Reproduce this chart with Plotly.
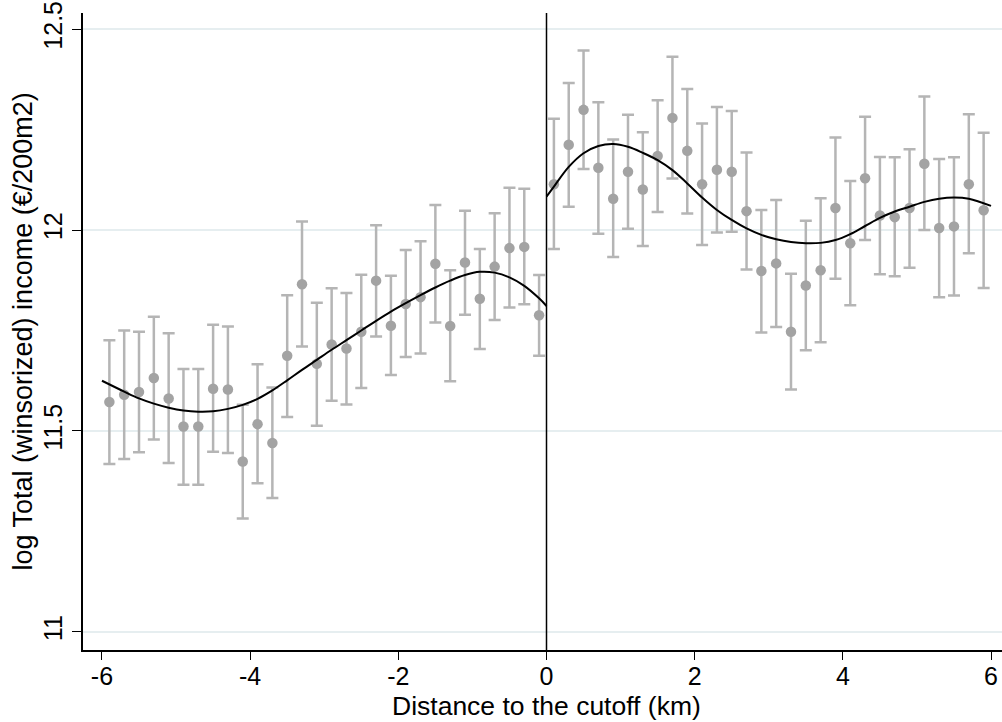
import plotly.graph_objects as go

# ---- data ----
left_x = [-5.9, -5.7, -5.5, -5.3, -5.1, -4.9, -4.7, -4.5, -4.3, -4.1, -3.9, -3.7, -3.5, -3.3, -3.1,
          -2.9, -2.7, -2.5, -2.3, -2.1, -1.9, -1.7, -1.5, -1.3, -1.1, -0.9, -0.7, -0.5, -0.3, -0.1]
left_y = [11.572, 11.590, 11.597, 11.632, 11.581, 11.511, 11.511, 11.605, 11.603, 11.424, 11.517, 11.470,
          11.687, 11.865, 11.667, 11.715, 11.705, 11.747, 11.874, 11.762, 11.816, 11.833, 11.916, 11.761,
          11.919, 11.829, 11.909, 11.955, 11.958, 11.788]
left_hi = [11.726, 11.750, 11.747, 11.784, 11.743, 11.654, 11.654, 11.764, 11.760, 11.565, 11.666, 11.608,
           11.838, 12.021, 11.819, 11.855, 11.843, 11.889, 12.012, 11.886, 11.950, 11.972, 12.062, 11.900,
           12.048, 11.953, 12.042, 12.105, 12.103, 11.888]
left_lo = [11.418, 11.430, 11.447, 11.479, 11.420, 11.366, 11.366, 11.448, 11.445, 11.282, 11.370, 11.333,
           11.535, 11.710, 11.513, 11.575, 11.566, 11.607, 11.735, 11.639, 11.684, 11.693, 11.770, 11.624,
           11.789, 11.704, 11.776, 11.807, 11.815, 11.687]

right_x = [0.1, 0.3, 0.5, 0.7, 0.9, 1.1, 1.3, 1.5, 1.7, 1.9, 2.1, 2.3, 2.5, 2.7, 2.9,
           3.1, 3.3, 3.5, 3.7, 3.9, 4.1, 4.3, 4.5, 4.7, 4.9, 5.1, 5.3, 5.5, 5.7, 5.9]
right_y = [12.114, 12.212, 12.299, 12.155, 12.078, 12.145, 12.101, 12.184, 12.279, 12.197, 12.114, 12.150,
           12.145, 12.047, 11.898, 11.917, 11.747, 11.862, 11.900, 12.055, 11.967, 12.129, 12.036, 12.032,
           12.055, 12.165, 12.005, 12.009, 12.114, 12.049]
right_hi = [12.277, 12.366, 12.447, 12.318, 12.225, 12.287, 12.243, 12.323, 12.431, 12.351, 12.265, 12.306,
            12.296, 12.193, 12.050, 12.075, 11.891, 12.023, 12.079, 12.230, 12.122, 12.282, 12.182, 12.181,
            12.201, 12.332, 12.177, 12.181, 12.288, 12.242]
right_lo = [11.953, 12.058, 12.152, 11.991, 11.933, 12.003, 11.960, 12.045, 12.128, 12.041, 11.963, 11.994,
            11.996, 11.902, 11.745, 11.759, 11.603, 11.701, 11.721, 11.879, 11.813, 11.975, 11.890, 11.885,
            11.906, 12.000, 11.833, 11.837, 11.942, 11.856]

left_fit_x = [-6.0, -5.7, -5.5, -5.3, -5.1, -4.9, -4.7, -4.5, -4.3, -4.1, -3.9, -3.7, -3.5, -3.3, -3.1,
              -2.9, -2.7, -2.5, -2.3, -2.1, -1.9, -1.7, -1.5, -1.3, -1.1, -0.9, -0.7, -0.5, -0.3, -0.1, 0.0]
left_fit_y = [11.625, 11.598, 11.581, 11.568, 11.558, 11.551, 11.548, 11.549, 11.555, 11.565, 11.580, 11.601,
              11.626, 11.652, 11.677, 11.702, 11.726, 11.750, 11.774, 11.797, 11.818, 11.838, 11.857, 11.874,
              11.888, 11.896, 11.894, 11.882, 11.861, 11.830, 11.811]

right_fit_x = [0.0, 0.1, 0.3, 0.5, 0.7, 0.9, 1.1, 1.3, 1.5, 1.7, 1.9, 2.1, 2.3, 2.5, 2.7, 2.9,
               3.1, 3.3, 3.5, 3.7, 3.9, 4.1, 4.3, 4.5, 4.7, 4.9, 5.1, 5.3, 5.5, 5.7, 6.0]
right_fit_y = [12.083, 12.108, 12.157, 12.191, 12.209, 12.214, 12.207, 12.192, 12.174, 12.149, 12.116, 12.081,
               12.050, 12.025, 12.004, 11.988, 11.977, 11.970, 11.967, 11.968, 11.975, 11.990, 12.010, 12.030,
               12.046, 12.058, 12.070, 12.078, 12.081, 12.078, 12.060]

x_ticks = [-6, -4, -2, 0, 2, 4, 6]
x_tick_text = ["-6", "-4", "-2", "0", "2", "4", "6"]
y_ticks = [11, 11.5, 12, 12.5]
y_tick_text = ["11", "11.5", "12", "12.5"]
x_title = "Distance to the cutoff (km)"
y_title = "log Total (winsorized) income (€/200m2)"

MARKER = "#a3a3a3"
BAR = "#b5b5b5"
FONT = "Liberation Sans, Arial, sans-serif"

fig = go.Figure()

for xs, ys, hi, lo in [(left_x, left_y, left_hi, left_lo), (right_x, right_y, right_hi, right_lo)]:
    fig.add_trace(go.Scatter(
        x=xs, y=ys, mode="markers",
        marker=dict(color=MARKER, size=10.5),
        error_y=dict(type="data", symmetric=False,
                     array=[h - y for h, y in zip(hi, ys)],
                     arrayminus=[y - l for y, l in zip(ys, lo)],
                     color=BAR, thickness=2.5, width=6),
        showlegend=False, hoverinfo="skip"))

for fx, fy in [(left_fit_x, left_fit_y), (right_fit_x, right_fit_y)]:
    fig.add_trace(go.Scatter(x=fx, y=fy, mode="lines",
                             line=dict(color="black", width=2, shape="spline", smoothing=1.0),
                             showlegend=False, hoverinfo="skip"))

fig.add_shape(type="line", xref="x", yref="paper", x0=0, x1=0, y0=0, y1=1,
              line=dict(color="black", width=1.5), layer="above")

# axis titles as annotations for precise placement
fig.add_annotation(text=x_title, xref="x", yref="paper", x=0, y=0, yshift=-56,
                   yanchor="middle", showarrow=False, font=dict(size=26.5))
fig.add_annotation(text=y_title, xref="paper", yref="paper", x=0, y=0.5, xshift=-61,
                   xanchor="center", yanchor="middle", textangle=-90, showarrow=False,
                   font=dict(size=27))

fig.update_layout(
    width=1002, height=722,
    margin=dict(l=83, r=0, t=13, b=72, autoexpand=False),
    paper_bgcolor="white", plot_bgcolor="white",
    font=dict(family=FONT, size=25, color="black"),
    xaxis=dict(range=[-6.256, 6.148], tickvals=x_ticks, ticktext=x_tick_text, ticks="outside", ticklen=8,
               tickwidth=1.2, tickcolor="black", showline=True, linecolor="black",
               linewidth=1.5, showgrid=False, zeroline=False, automargin=False,
               ticklabelstandoff=-5, tickfont=dict(size=25)),
    yaxis=dict(range=[10.955, 12.540], tickvals=y_ticks, ticktext=y_tick_text,
               tickangle=-90, ticks="outside", ticklen=9, tickwidth=1.2, tickcolor="black",
               showline=True, linecolor="black", linewidth=1.5, automargin=False,
               showgrid=True, gridcolor="#e6eef0", gridwidth=1.5, zeroline=False,
               ticklabelstandoff=0, tickfont=dict(size=25)),
)

fig.write_html("out.html", config={"displayModeBar": False},
               post_script="document.body.style.margin='0px';document.body.style.overflow='hidden';")
